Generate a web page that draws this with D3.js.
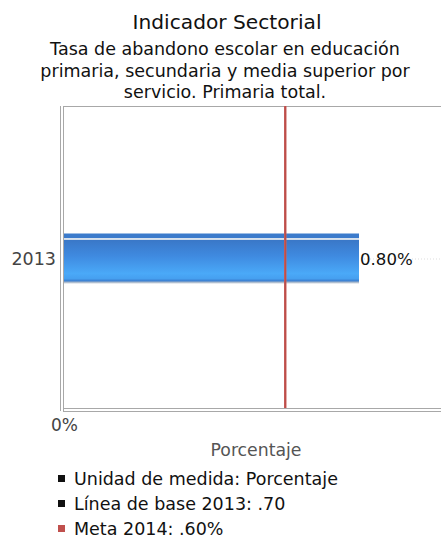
<!DOCTYPE html>
<html>
<head>
<meta charset="utf-8">
<script src="https://cdn.jsdelivr.net/npm/d3@7"></script>
<style>
	body { margin: 0; background: #fff; }
	svg { display: block; font-family: "DejaVu Sans", sans-serif; }
</style>
</head>
<body>
<svg width="441" height="538"></svg>
<script>
const titulo = "Indicador Sectorial";
const subtitulo = ["Tasa de abandono escolar en educación", "primaria, secundaria y media superior por", "servicio. Primaria total."];
const categorias = ["2013"];
const valores = [0.80];
const meta = 0.60;
const xTicks = [0];
const ejeTitulo = "Porcentaje";
const leyenda = [
	{texto: "Unidad de medida: Porcentaje", color: "#111"},
	{texto: "Línea de base 2013: .70", color: "#111"},
	{texto: "Meta 2014: .60%", color: "#c0504d"}
];

const svg = d3.select("svg");
const margin = {top: 106, left: 64, bottom: 411, right: 445};

const x = d3.scaleLinear().domain([0, 0.8]).range([margin.left, 359]);
const y = d3.scaleBand().domain(categorias).range([margin.top, margin.bottom]).paddingInner(0).paddingOuter(2.55);

// titulos
svg.append("text")
	.attr("x", 227).attr("y", 29)
	.attr("text-anchor", "middle")
	.attr("font-size", 20.2)
	.attr("fill", "#111")
	.text(titulo);

svg.selectAll(".sub")
	.data(subtitulo)
	.join("text")
	.attr("class", "sub")
	.attr("x", 225)
	.attr("y", (d, i) => 55 + i * 21.5)
	.attr("text-anchor", "middle")
	.attr("font-size", 17.5)
	.attr("fill", "#111")
	.text(d => d);

// marco
const frame = svg.append("g").attr("stroke", "#a8a8a8").attr("fill", "none");
frame.append("line").attr("x1", 60.5).attr("x2", 60.5).attr("y1", margin.top).attr("y2", 411);
frame.append("line").attr("x1", 63.5).attr("x2", 63.5).attr("y1", margin.top).attr("y2", 412);
frame.append("line").attr("x1", 64).attr("x2", margin.right).attr("y1", margin.top + 0.5).attr("y2", margin.top + 0.5);
frame.append("line").attr("x1", 64).attr("x2", margin.right).attr("y1", 408.5).attr("y2", 408.5);
frame.append("line").attr("x1", 63).attr("x2", margin.right).attr("y1", 411.5).attr("y2", 411.5);

// gradiente de barra
const defs = svg.append("defs");
const grad = defs.append("linearGradient")
	.attr("id", "gradBarra")
	.attr("x1", 0).attr("y1", 0).attr("x2", 0).attr("y2", 1);
[
	[0, "#3c7bcc"], [0.08, "#3c7bcc"], [0.09, "#dbe4ee"], [0.13, "#c9d8ea"], [0.14, "#3a78c8"],
	[0.45, "#3f8ae0"], [0.8, "#4aa9f8"], [0.9, "#46a0f0"], [0.95, "#3a7dcf"], [0.97, "#9fb3c9"], [1, "#d0d6de"]
].forEach(([o, c]) => grad.append("stop").attr("offset", o).attr("stop-color", c));

// linea de categoria punteada
svg.selectAll(".grid")
	.data(categorias)
	.join("line")
	.attr("class", "grid")
	.attr("x1", 64).attr("x2", margin.right)
	.attr("y1", d => y(d) + y.bandwidth() / 2 + 0.5)
	.attr("y2", d => y(d) + y.bandwidth() / 2 + 0.5)
	.attr("stroke", "#ddd")
	.attr("stroke-dasharray", "1,2");

// barras
svg.selectAll(".barra")
	.data(valores)
	.join("rect")
	.attr("class", "barra")
	.attr("x", x(0))
	.attr("y", (d, i) => y(categorias[i]))
	.attr("width", d => x(d) - x(0))
	.attr("height", y.bandwidth())
	.attr("fill", "url(#gradBarra)");

// etiquetas de valor
svg.selectAll(".etq")
	.data(valores)
	.join("text")
	.attr("class", "etq")
	.attr("x", d => x(d) + 1)
	.attr("y", (d, i) => y(categorias[i]) + y.bandwidth() / 2 + 6)
	.attr("font-size", 16.6)
	.attr("fill", "#111")
	.text(d => d.toFixed(2) + "%");

// linea meta
svg.append("line")
	.attr("x1", x(meta)).attr("x2", x(meta))
	.attr("y1", margin.top).attr("y2", 408)
	.attr("stroke", "#c9605c")
	.attr("stroke-width", 2.5);
svg.append("line")
	.attr("x1", x(meta)).attr("x2", x(meta))
	.attr("y1", margin.top).attr("y2", 408)
	.attr("stroke", "#b84844")
	.attr("stroke-width", 1);

// eje y
const yAxis = svg.append("g")
	.attr("transform", `translate(56,0)`)
	.call(d3.axisLeft(y).tickSize(0).tickPadding(0));
yAxis.select(".domain").remove();
yAxis.selectAll("text")
	.attr("font-size", 17.5)
	.attr("font-family", "DejaVu Sans, sans-serif")
	.attr("fill", "#444")
	.attr("dy", "0.36em");

// eje x
const xAxis = svg.append("g")
	.attr("transform", `translate(0,412)`)
	.call(d3.axisBottom(x).tickValues(xTicks).tickFormat(d => d + "%").tickSize(0).tickPadding(7));
xAxis.select(".domain").remove();
xAxis.selectAll("text")
	.attr("font-size", 17)
	.attr("font-family", "DejaVu Sans, sans-serif")
	.attr("fill", "#444");

svg.append("text")
	.attr("x", 256).attr("y", 456)
	.attr("text-anchor", "middle")
	.attr("font-size", 17.3)
	.attr("fill", "#555")
	.text(ejeTitulo);

// leyenda
const leg = svg.selectAll(".leg")
	.data(leyenda)
	.join("g")
	.attr("class", "leg")
	.attr("transform", (d, i) => `translate(58,${485 + i * 25})`);
leg.append("rect")
	.attr("x", 0).attr("y", -10)
	.attr("width", 7).attr("height", 7)
	.attr("fill", d => d.color);
leg.append("text")
	.attr("x", 16).attr("y", 0)
	.attr("font-size", 17.5)
	.attr("fill", "#111")
	.text(d => d.texto);
</script>
</body>
</html>
